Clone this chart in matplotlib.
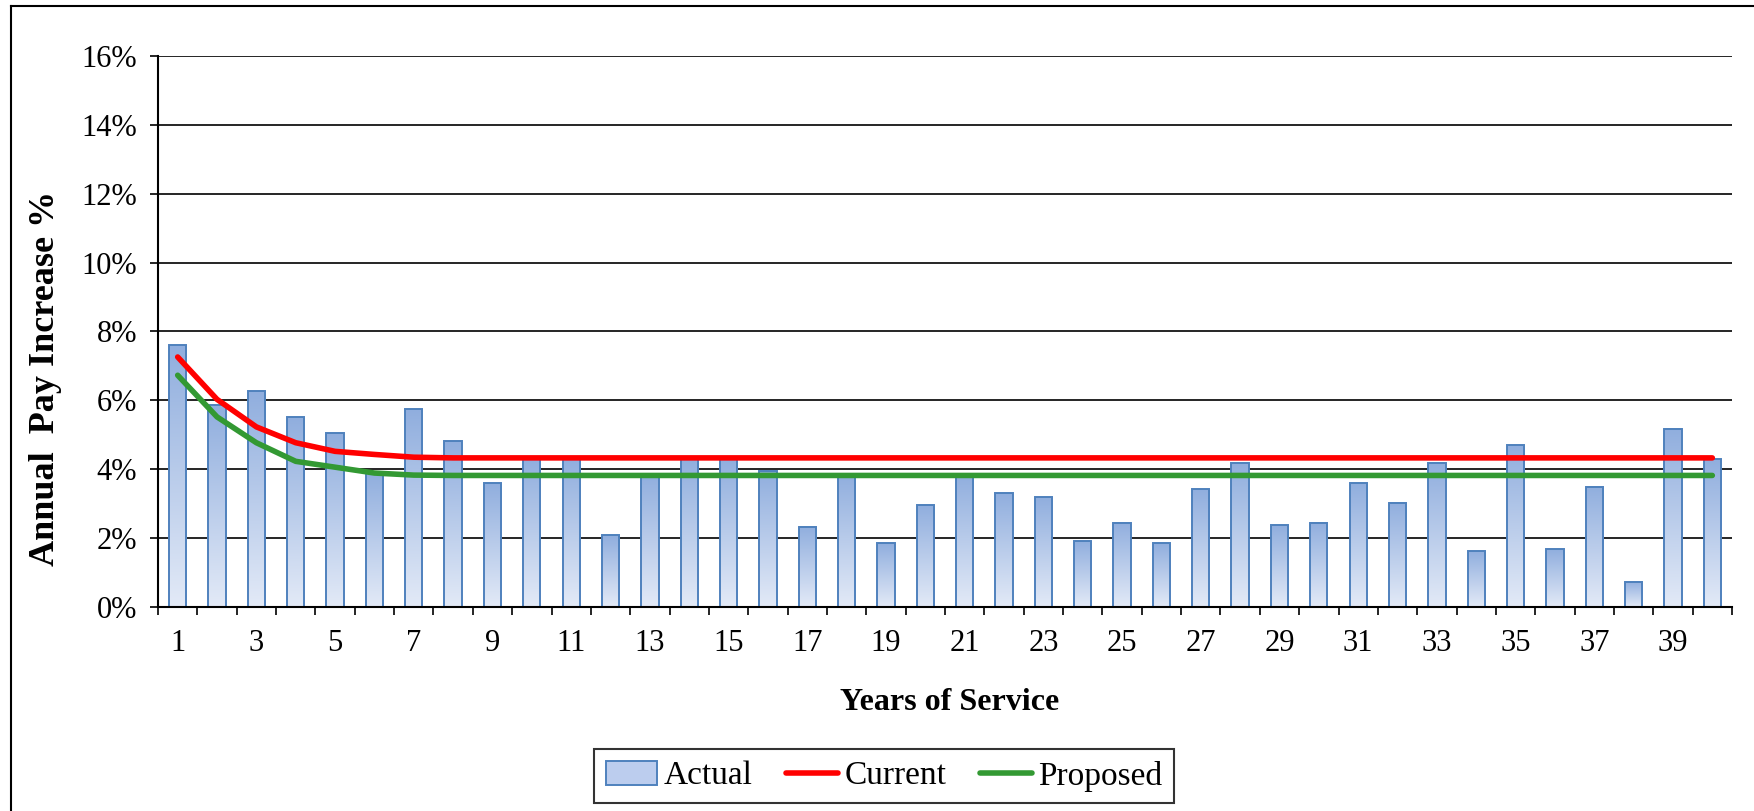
import numpy as np
import matplotlib
matplotlib.use("Agg")
import matplotlib.pyplot as plt
from matplotlib.colors import LinearSegmentedColormap
from matplotlib.patches import Patch
from matplotlib.lines import Line2D
from matplotlib.ticker import FuncFormatter, FixedLocator

plt.rcParams['font.family'] = ['Liberation Serif', 'DejaVu Serif']

# years of service 1..40
years = list(range(1, 41))

# actual annual pay increase by year of service (%)
actual = [7.60, 5.86, 6.27, 5.51, 5.05, 3.89, 5.74, 4.81, 3.59, 4.30,
          4.30, 2.08, 3.85, 4.30, 4.30, 3.94, 2.33, 3.85, 1.85, 2.96,
          3.85, 3.30, 3.19, 1.91, 2.44, 1.85, 3.42, 4.17, 2.37, 2.44,
          3.59, 3.02, 4.17, 1.62, 4.70, 1.67, 3.49, 0.74, 5.17, 4.29]

# current salary scale (%)
current = [7.26, 6.03, 5.23, 4.77, 4.52, 4.43, 4.35, 4.33, 4.33, 4.33,
           4.33, 4.33, 4.33, 4.33, 4.33, 4.33, 4.33, 4.33, 4.33, 4.33,
           4.33, 4.33, 4.33, 4.33, 4.33, 4.33, 4.33, 4.33, 4.33, 4.33,
           4.33, 4.33, 4.33, 4.33, 4.33, 4.33, 4.33, 4.33, 4.33, 4.33]

# proposed salary scale (%)
proposed = [6.73, 5.52, 4.77, 4.23, 4.06, 3.89, 3.83, 3.82, 3.82, 3.82,
            3.82, 3.82, 3.82, 3.82, 3.82, 3.82, 3.82, 3.82, 3.82, 3.82,
            3.82, 3.82, 3.82, 3.82, 3.82, 3.82, 3.82, 3.82, 3.82, 3.82,
            3.82, 3.82, 3.82, 3.82, 3.82, 3.82, 3.82, 3.82, 3.82, 3.82]

x_labels = [str(y) for y in range(1, 41, 2)]
y_ticks = [0, 2, 4, 6, 8, 10, 12, 14, 16]

W, H = 1754, 811
fig = plt.figure(figsize=(W / 100, H / 100), dpi=100)
ax = fig.add_axes([158 / W, 1 - 607 / H, (1732 - 158) / W, (607 - 56) / H])

# bars with a vertical gradient (dark at the top, pale at the bottom)
bar_w = 0.44
grad_cmap = LinearSegmentedColormap.from_list("bar", ["#e3eaf7", "#90aede"])
grad = np.linspace(0, 1, 256).reshape(-1, 1)
for x, v in zip(years, actual):
    ax.imshow(grad, extent=[x - bar_w / 2, x + bar_w / 2, 0, v], origin="lower",
              aspect="auto", cmap=grad_cmap, zorder=2, interpolation="bilinear")
ax.bar(years, actual, width=bar_w, fill=False, edgecolor="#4f81bd",
       linewidth=1.4, zorder=3)

ax.plot(years, current, color="#ff0000", lw=4.0, solid_capstyle="round",
        solid_joinstyle="round", zorder=4)
ax.plot(years, proposed, color="#339933", lw=4.0, solid_capstyle="round",
        solid_joinstyle="round", zorder=4)

ax.set_xlim(0.5, 40.5)
ax.set_ylim(0, 16)

# horizontal gridlines behind the bars
for yv in y_ticks[1:]:
    ax.axhline(yv, color="black", lw=1.2, zorder=1)

ax.yaxis.set_major_locator(FixedLocator(y_ticks))
ax.yaxis.set_major_formatter(FuncFormatter(lambda v, p: "%d%%" % v))
ax.xaxis.set_major_locator(FixedLocator(np.arange(0.5, 41, 1)))
ax.xaxis.set_major_formatter(FuncFormatter(lambda v, p: ""))
ax.xaxis.set_minor_locator(FixedLocator(range(1, 41, 2)))
ax.set_xticklabels(x_labels, minor=True)

ax.tick_params(axis="y", direction="out", length=6, width=1.2, pad=9,
               labelsize=22)
ax.tick_params(axis="x", which="major", direction="out", length=6, width=1.2)
ax.tick_params(axis="x", which="minor", length=0, pad=16, labelsize=22)

for s in ["top", "right"]:
    ax.spines[s].set_visible(False)
for s in ["left", "bottom"]:
    ax.spines[s].set_linewidth(1.5)
    ax.spines[s].set_zorder(5)

fig.text(46 / W, 1 - 378 / H, "Annual  Pay Increase %", rotation=90,
         ha="center", va="center", fontsize=26, fontweight="bold")
fig.text(950 / W, 1 - 702 / H, "Years of Service", ha="center", va="center",
         fontsize=23, fontweight="bold")

handles = [Patch(facecolor="#bccdee", edgecolor="#4f81bd", linewidth=1.4),
           Line2D([], [], color="#ff0000", lw=4.0, solid_capstyle="round"),
           Line2D([], [], color="#339933", lw=4.0, solid_capstyle="round")]
leg = fig.legend(handles, ["Actual", "Current", "Proposed"], ncol=3,
                 loc="center", bbox_to_anchor=(884 / W, 1 - 776 / H),
                 fontsize=24, frameon=True, fancybox=False, edgecolor="black",
                 handlelength=1.55, handletextpad=0.2, columnspacing=1.0,
                 borderpad=0.35)
leg.get_frame().set_linewidth(1.5)

# outer chart border (left and top edges)
fig.add_artist(Line2D([11 / W, 11 / W], [0, 1 - 6 / H], color="black", lw=1.5,
                      transform=fig.transFigure))
fig.add_artist(Line2D([11 / W, 1], [1 - 6 / H, 1 - 6 / H], color="black", lw=1.5,
                      transform=fig.transFigure))

fig.savefig("out.png", dpi=100, facecolor="white")
